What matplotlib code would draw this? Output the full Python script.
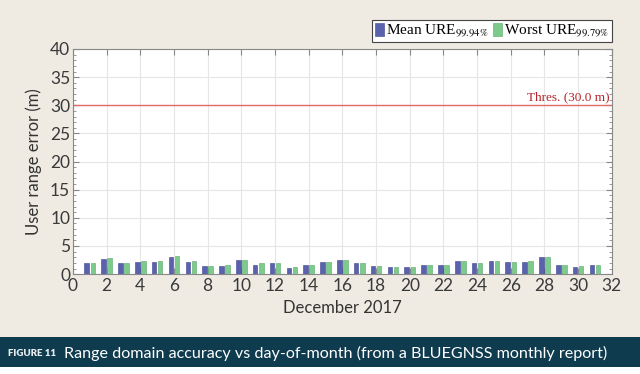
import numpy as np
import matplotlib
matplotlib.use("Agg")
import matplotlib.pyplot as plt
from matplotlib.ticker import MultipleLocator

# Données
days = list(range(1, 32))
mean_ure = [2.0, 2.7, 2.0, 2.2, 2.1, 3.1, 2.1, 1.4, 1.5, 2.6, 1.6, 1.9, 1.1, 1.7, 2.1,
            2.6, 2.0, 1.4, 1.3, 1.25, 1.6, 1.7, 2.4, 1.9, 2.4, 2.1, 2.2, 3.1, 1.7, 1.3, 1.6]
worst_ure = [2.0, 2.9, 2.0, 2.3, 2.3, 3.2, 2.3, 1.5, 1.6, 2.5, 1.9, 1.9, 1.2, 1.7, 2.1,
             2.6, 2.0, 1.4, 1.3, 1.3, 1.6, 1.7, 2.4, 2.0, 2.4, 2.1, 2.4, 3.1, 1.7, 1.4, 1.6]
threshold = 30.0

bg = "#efebe3"
blue = "#5a62ad"
green = "#7ccb8c"
sans = "Lato"

plt.rcParams["mathtext.fontset"] = "stix"

fig = plt.figure(figsize=(6.4, 3.74), dpi=100, facecolor=bg)
ax = fig.add_axes([0.114, 0.267, 0.842, 0.602])
ax.set_facecolor("white")

x = np.array(days)
w = 0.27
ax.bar(x - 0.18, mean_ure, width=w, color=blue, edgecolor="#3c4390", linewidth=0.4,
       label=r"Mean URE$_{99.94\%}$", zorder=3)
ax.bar(x + 0.18, worst_ure, width=w, color=green, edgecolor="#5aa86a", linewidth=0.4,
       label=r"Worst URE$_{99.79\%}$", zorder=3)

ax.axhline(threshold, color="#e06a66", linewidth=1.0, zorder=2)
ax.text(31.85, threshold + 0.4, "Thres. (30.0 m)", color="#b8232b", ha="right", va="bottom",
        family="Liberation Serif", fontsize=9.5)

ax.set_xlim(0, 32)
ax.set_ylim(0, 40)
ax.xaxis.set_major_locator(MultipleLocator(2))
ax.yaxis.set_major_locator(MultipleLocator(5))
ax.yaxis.set_minor_locator(MultipleLocator(1))
ax.grid(True, which="major", color="#e6e6e6", linewidth=0.8, zorder=0)
ax.tick_params(which="both", direction="in", top=True, right=True, color="#888888")
ax.tick_params(which="major", length=4, labelsize=12.5, labelcolor="#3a3a3a")
ax.tick_params(which="minor", length=2)
ax.tick_params(axis="x", pad=3)
ax.tick_params(axis="y", pad=2)
for lab in ax.get_xticklabels() + ax.get_yticklabels():
    lab.set_family(sans)
for s in ax.spines.values():
    s.set_color("#888888")
    s.set_linewidth(0.8)

ax.set_xlabel("December 2017", family=sans, fontsize=12, color="#333333", labelpad=4)
ax.set_ylabel("User range error (m)", family=sans, fontsize=12, color="#333333", labelpad=6)

leg = ax.legend(loc="lower right", bbox_to_anchor=(1.0, 1.03), ncol=2, frameon=True,
                fancybox=False, edgecolor="#444444", framealpha=1.0,
                prop={"family": "Liberation Serif", "size": 11},
                handlelength=0.6, handleheight=0.9, handletextpad=0.1, columnspacing=0.3,
                borderpad=0.2, borderaxespad=0.0)
leg.get_frame().set_linewidth(0.8)

# Bandeau de légende en bas
fig.patches.append(plt.Rectangle((0, 0.018), 1, 0.082, transform=fig.transFigure,
                                 facecolor="#0e3b4e", edgecolor="none", zorder=0))
fig.patches.append(plt.Rectangle((0, 0), 1, 0.018, transform=fig.transFigure,
                                 facecolor="white", edgecolor="none", zorder=0))
fig.text(0.013, 0.056, "FIGURE 11", color="#e8eef0", fontsize=7, fontweight="heavy",
         family=sans, va="center")
fig.text(0.1, 0.056, "Range domain accuracy vs day-of-month (from a BLUEGNSS monthly report)",
         color="white", fontsize=11.6, family=sans, va="center")

plt.savefig("out.png", dpi=100, facecolor=bg)
